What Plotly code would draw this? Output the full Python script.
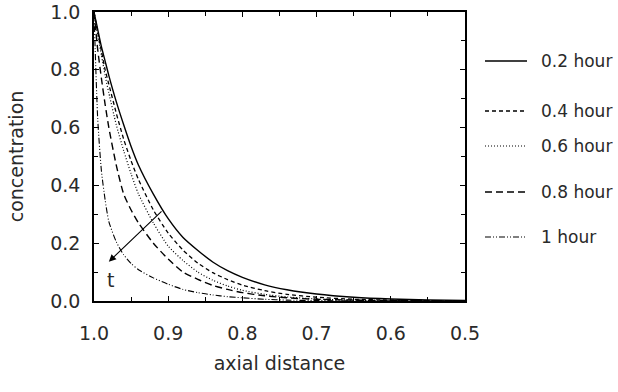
import plotly.graph_objects as go

# axial distance sample positions
x_vals = [1.0, 0.995, 0.99, 0.985, 0.98, 0.97, 0.96, 0.95, 0.94, 0.92, 0.90, 0.88,
          0.86, 0.84, 0.82, 0.80, 0.77, 0.74, 0.70, 0.65, 0.60, 0.55, 0.50]

c_02 = [1.0, 0.94, 0.88, 0.83, 0.78, 0.69, 0.61, 0.535, 0.47, 0.37, 0.285, 0.22,
        0.175, 0.135, 0.105, 0.082, 0.056, 0.039, 0.024, 0.013, 0.007, 0.004, 0.002]
c_04 = [1.0, 0.93, 0.865, 0.80, 0.75, 0.65, 0.56, 0.485, 0.42, 0.315, 0.235, 0.176,
        0.131, 0.098, 0.074, 0.055, 0.036, 0.023, 0.013, 0.006, 0.003, 0.0015, 0.001]
c_06 = [1.0, 0.92, 0.85, 0.78, 0.72, 0.61, 0.52, 0.44, 0.37, 0.27, 0.19, 0.14,
        0.10, 0.072, 0.052, 0.037, 0.023, 0.014, 0.007, 0.003, 0.0015, 0.001, 0.0005]
c_08 = [1.0, 0.87, 0.77, 0.68, 0.60, 0.47, 0.37, 0.315, 0.27, 0.20, 0.145, 0.10,
        0.075, 0.054, 0.040, 0.029, 0.018, 0.011, 0.006, 0.003, 0.0015, 0.001, 0.0005]
c_10 = [1.0, 0.63, 0.45, 0.35, 0.275, 0.205, 0.16, 0.13, 0.108, 0.08, 0.058, 0.04,
        0.029, 0.021, 0.015, 0.011, 0.006, 0.003, 0.0015, 0.0008, 0.0004, 0.0002, 0.0001]

series_names = ["0.2 hour", "0.4 hour", "0.6 hour", "0.8 hour", "1 hour"]
series_vals = [c_02, c_04, c_06, c_08, c_10]
dashes = ["solid", "4px,3px", "1px,2px", "7px,4px", "6px,2px,1px,2px,1px,2px"]
widths = [1.4, 1.3, 1.2, 1.4, 1.1]

FONT = "DejaVu Sans"
TXT = "#2a2a2a"

# plot-area geometry in pixels (for the hand-drawn legend)
W, H = 618, 392
ML, MR, MT, MB = 94, 153, 12, 91
PW, PH = W - ML - MR, H - MT - MB


def px_to_paper_x(px):
    return (px - ML) / PW


def px_to_paper_y(py):
    return (H - MB - py) / PH


legend_rows_px = [61, 111, 146, 192, 237]

fig = go.Figure()
for i, (name, vals) in enumerate(zip(series_names, series_vals)):
    fig.add_trace(go.Scatter(
        x=x_vals, y=vals, name=name, mode="lines",
        line=dict(color="black", width=widths[i], dash=dashes[i], shape="spline", smoothing=0.6),
        showlegend=False,
    ))
    yy = px_to_paper_y(legend_rows_px[i])
    fig.add_shape(type="line", xref="paper", yref="paper",
                  x0=px_to_paper_x(485), x1=px_to_paper_x(527), y0=yy, y1=yy,
                  line=dict(color="black", width=widths[i], dash=dashes[i]))
    fig.add_annotation(xref="paper", yref="paper", x=px_to_paper_x(539), y=yy,
                       xanchor="left", yanchor="middle", text=name, showarrow=False,
                       font=dict(family=FONT, size=17, color=TXT))

fig.add_annotation(x=0.980, y=0.136, ax=0.907, ay=0.315, axref="x", ayref="y",
                   xref="x", yref="y", showarrow=True, arrowhead=2, arrowsize=1.3,
                   arrowwidth=1.1, arrowcolor="black", text="")
fig.add_annotation(x=0.978, y=0.073, xref="x", yref="y", text="t", showarrow=False,
                   font=dict(family=FONT, size=19, color=TXT))

axis_common = dict(showline=True, linecolor="black", linewidth=1.5, mirror="allticks",
                   ticks="inside", ticklen=5, tickcolor="black", tickwidth=1,
                   showgrid=False, zeroline=False,
                   tickfont=dict(family=FONT, size=19, color=TXT))

fig.update_xaxes(range=[1.0, 0.5], dtick=0.1, tick0=0.5, tickformat=".1f",
                 ticklabelstandoff=14,
                 minor=dict(dtick=0.05, ticks="inside", ticklen=4, tickcolor="black"),
                 title=dict(text="axial distance", font=dict(family=FONT, size=19, color=TXT),
                            standoff=14),
                 **axis_common)
fig.update_yaxes(range=[0, 1.0], dtick=0.2, tickformat=".1f",
                 ticklabelstandoff=8,
                 minor=dict(dtick=0.1, ticks="inside", ticklen=4, tickcolor="black"),
                 title=dict(text="concentration", font=dict(family=FONT, size=19, color=TXT),
                            standoff=22),
                 **axis_common)

fig.update_layout(
    width=W, height=H,
    margin=dict(l=ML, r=MR, t=MT, b=MB, autoexpand=False),
    plot_bgcolor="white", paper_bgcolor="white",
    showlegend=False,
)

fig.write_html("out.html")
